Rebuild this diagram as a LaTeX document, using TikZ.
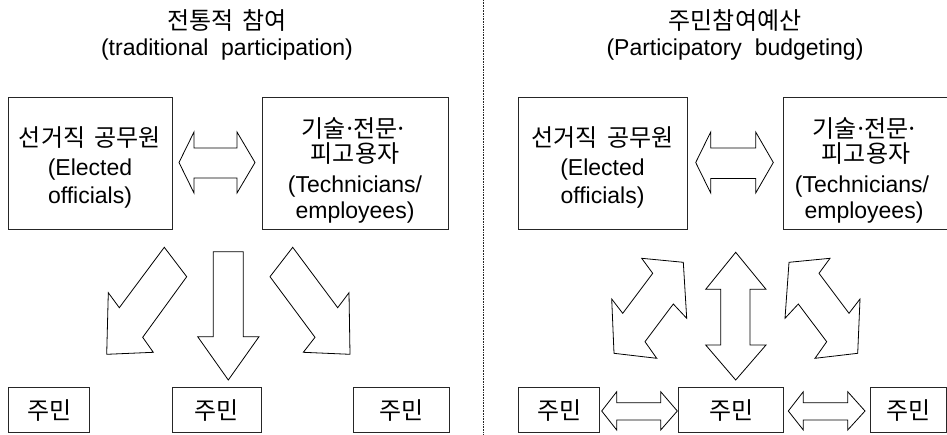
\documentclass[tikz,border=0pt]{standalone}
\usepackage{fontspec}
\setmainfont{Liberation Sans}
\newfontfamily\kr{Noto Sans CJK KR}
\newcommand{\ksp}{\hspace{0.4em}}
\newcommand{\kdot}{\hspace{-0.12em}·\hspace{-0.12em}}
\begin{document}
\begin{tikzpicture}[x=1pt,y=-1pt,
  box/.style={draw=black!85, line width=1pt, inner sep=0pt, anchor=north west},
  blk/.style={draw=black, line width=0.8pt, fill=white, line join=miter},
  lat/.style={anchor=base, font=\fontsize{23}{27}\selectfont, inner sep=0pt},
  kor/.style={anchor=base, font=\fontsize{24}{28}\selectfont\kr, inner sep=0pt}]
\useasboundingbox (0,0) rectangle (947,434);

% divider
\draw[line width=1.5pt, dash pattern=on 1pt off 0.6pt, black!85] (483.5,0) -- (483.5,434);

% titles
\node[kor] (t1a) at (227,29) {전통적\ksp 참여};
\node[lat] (t1b) at (227,55) {(traditional\ \ participation)};
\node[kor] (t2a) at (735,29) {주민참여예산};
\node[lat] (t2b) at (735,55) {(Participatory\ \ budgeting)};

% ---------- left panel ----------
\node[box, minimum width=164pt, minimum height=132pt] (eoL) at (8,97) {};
\node[kor] (eoL1) at (90,146) {선거직\ksp 공무원};
\node[lat] (eoL2) at (90,175) {(Elected};
\node[lat] (eoL3) at (90,203) {officials)};

\node[box, minimum width=186pt, minimum height=132pt] (teL) at (262,97) {};
\node[kor] (teL1) at (355,137.5) {기술\kdot 전문\kdot};
\node[kor] (teL2) at (355,162) {피고용자};
\node[lat] (teL3) at (355,192) {(Technicians/};
\node[lat] (teL4) at (355,218) {employees)};

\node[box, minimum width=81pt, minimum height=45pt] (cL1) at (8.3,387.3) {};
\node[kor] at (cL1.center) [anchor=center] (cL1t) {주민};
\node[box, minimum width=89.3pt, minimum height=45pt] (cL2) at (171.7,387.3) {};
\node[kor] at (cL2.center) [anchor=center] (cL2t) {주민};
\node[box, minimum width=95.7pt, minimum height=45pt] (cL3) at (353.3,387.3) {};
\node[kor] at (cL3.center) [anchor=center] (cL3t) {주민};

% left horizontal double arrow
\draw[blk] (179,162.5) -- (194,132) -- (194,148) -- (237,148) -- (237,132) -- (255,162.5)
  -- (237,193) -- (237,178) -- (194,178) -- (194,193) -- cycle;
% down-left arrow
\draw[blk] (164.3,247.3) -- (186.7,276.7) -- (142.7,337.3) -- (153.3,352.3) -- (106.7,354.3)
  -- (108.3,292.7) -- (119.3,307.7) -- cycle;
% down arrow
\draw[blk] (213.3,251.7) -- (243.3,251.7) -- (243.3,336.7) -- (259,336.7) -- (228.3,380)
  -- (197.7,336.7) -- (213.3,336.7) -- cycle;
% down-right arrow
\draw[blk] (270,276.7) -- (292.7,247.3) -- (337.7,307.7) -- (349,292.7) -- (350,354.3)
  -- (303.3,352.3) -- (315,337.3) -- cycle;

% ---------- right panel ----------
\node[box, minimum width=168.4pt, minimum height=132pt] (eoR) at (518.3,97) {};
\node[kor] (eoR1) at (602.5,146) {선거직\ksp 공무원};
\node[lat] (eoR2) at (602.5,175) {(Elected};
\node[lat] (eoR3) at (602.5,203) {officials)};

\node[box, minimum width=164pt, minimum height=132pt] (teR) at (782.5,97) {};
\node[kor] (teR1) at (866,137.5) {기술\kdot 전문\kdot};
\node[kor] (teR2) at (866,162) {피고용자};
\node[lat] (teR3) at (862,192) {(Technicians/};
\node[lat] (teR4) at (864,218) {employees)};

\node[box, minimum width=81pt, minimum height=45pt] (cR1) at (518.3,387.3) {};
\node[kor] at (cR1.center) [anchor=center] (cR1t) {주민};
\node[box, minimum width=105pt, minimum height=45pt] (cR2) at (678.3,387.3) {};
\node[kor] at (cR2.center) [anchor=center] (cR2t) {주민};
\node[box, minimum width=76pt, minimum height=45pt] (cR3) at (870,387.3) {};
\node[kor] at (cR3.center) [anchor=center] (cR3t) {주민};

% right horizontal double arrow (top)
\draw[blk] (695.7,162.5) -- (710.7,132) -- (710.7,148) -- (755.7,148) -- (755.7,132) -- (773.3,162.5)
  -- (755.7,193) -- (755.7,178.5) -- (710.7,178.5) -- (710.7,193) -- cycle;
% bottom double arrows
\draw[blk] (601.7,411) -- (616.7,391.7) -- (616.7,402.7) -- (660.7,402.7) -- (660.7,391.7) -- (677.3,411)
  -- (660.7,430) -- (660.7,420) -- (616.7,420) -- (616.7,430) -- cycle;
\draw[blk] (788.3,411) -- (803.3,391.7) -- (803.3,402.7) -- (847.7,402.7) -- (847.7,391.7) -- (865,411)
  -- (847.7,430) -- (847.7,420) -- (803.3,420) -- (803.3,430) -- cycle;
% vertical double arrow
\draw[blk] (735.7,252.3) -- (766,289.3) -- (750,289.3) -- (750,345) -- (766,345) -- (735.7,380)
  -- (705.7,345) -- (720.7,345) -- (720.7,289.3) -- (705.7,289.3) -- cycle;
% left diagonal double arrow
\draw[blk] (641.7,258.3) -- (683.3,262.3) -- (686.7,318.3) -- (673.3,304) -- (645,341.7) -- (656.7,358.3)
  -- (614,353.3) -- (611.7,299) -- (622.7,313.3) -- (652.7,273.3) -- cycle;
% right diagonal double arrow
\draw[blk] (830,258.3) -- (789,262.3) -- (785,318.3) -- (798.3,304) -- (826.7,341.7) -- (815,358.3)
  -- (857.7,353.3) -- (860,299) -- (849,313.3) -- (819,273.3) -- cycle;
\end{tikzpicture}
\end{document}
